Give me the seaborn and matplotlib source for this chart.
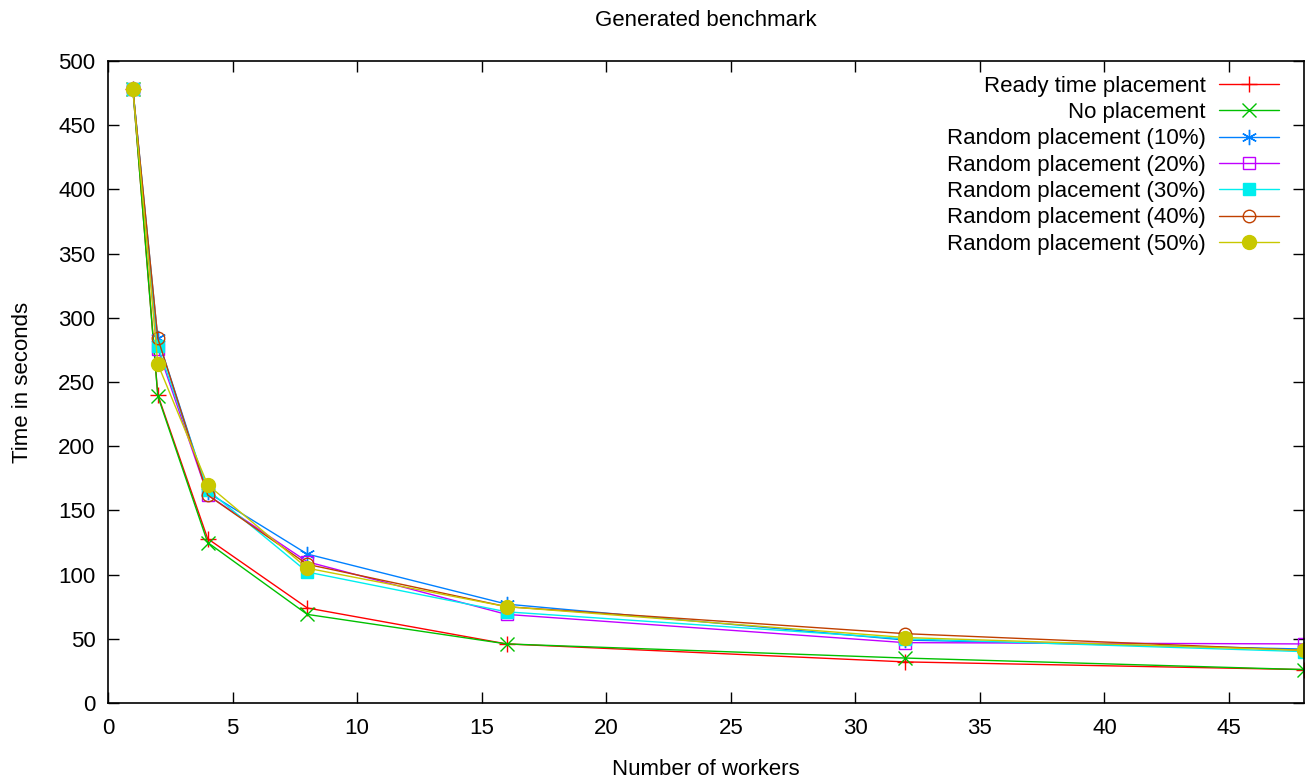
import numpy as np
import pandas as pd
import matplotlib
matplotlib.use("Agg")
import matplotlib.pyplot as plt
import seaborn as sns

# --- data ---
workers = [1, 2, 4, 8, 16, 32, 48]
ready_time = [478, 240, 128, 74, 46, 32, 26]
no_placement = [478, 239, 125, 69, 46, 35, 26]
random_10 = [478, 284, 164, 116, 77, 49, 42]
random_20 = [478, 276, 162, 110, 69, 47, 46]
random_30 = [478, 278, 166, 102, 71, 50, 40]
random_40 = [478, 284, 162, 108, 75, 54, 41]
random_50 = [478, 264, 170, 105, 75, 51, 41]

labels = ["Ready time placement", "No placement", "Random placement (10%)",
          "Random placement (20%)", "Random placement (30%)",
          "Random placement (40%)", "Random placement (50%)"]
series = [ready_time, no_placement, random_10, random_20, random_30, random_40, random_50]

colors = ["#ff0000", "#00c000", "#0080ff", "#c000ff", "#00eeee", "#c04000", "#c8c800"]
markers = ["+", "x", (6, 2, 0), "s", "s", "o", "o"]
filled = [True, True, True, False, True, False, True]
msizes = [11, 10, 11, 9, 9, 9, 10]

sns.set_theme(style="ticks")
plt.rcParams['font.family'] = ['Liberation Sans', 'DejaVu Sans']
plt.rcParams['text.color'] = 'black'
plt.rcParams['axes.labelcolor'] = 'black'

FS = 16

df = pd.DataFrame({
    'workers': np.tile(workers, len(labels)),
    'time': np.concatenate(series),
    'label': np.repeat(labels, len(workers)),
})

fig = plt.figure(figsize=(13.09, 7.83), dpi=100)
ax = fig.add_axes([0.0825, 0.1022, 0.9135, 0.8198])

for lab, col, mk, fl, ms in zip(labels, colors, markers, filled, msizes):
    d = df[df['label'] == lab]
    sns.lineplot(data=d, x='workers', y='time', ax=ax, color=col, marker=mk,
                 markersize=ms, linewidth=1.0, label=lab,
                 markerfacecolor=col if fl else 'none', markeredgecolor=col,
                 markeredgewidth=1.0)

ax.set_xlim(0, 48)
ax.set_ylim(0, 500)
ax.set_xticks(range(0, 46, 5))
ax.set_yticks(range(0, 501, 50))
ax.tick_params(direction='in', top=True, right=True, length=8, width=1,
               labelsize=FS, colors='black')
ax.tick_params(axis='x', pad=11)
ax.tick_params(axis='y', pad=9)
for s in ax.spines.values():
    s.set_linewidth(1.2)
    s.set_color('black')

ax.set_title("Generated benchmark", fontsize=FS, pad=25)
ax.set_xlabel("Number of workers", fontsize=FS, labelpad=14)
ax.set_ylabel("Time in seconds", fontsize=FS, labelpad=18)

ax.legend(loc='upper right', frameon=False, markerfirst=False, alignment='right',
          fontsize=FS, handlelength=2.7, handletextpad=0.6, labelspacing=0.24,
          borderaxespad=0.0, bbox_to_anchor=(0.987, 0.991))

fig.savefig("out.png", dpi=100)
